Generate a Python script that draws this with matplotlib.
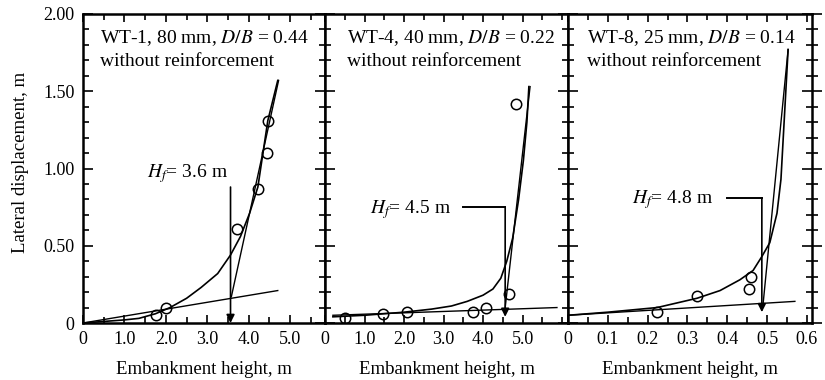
import matplotlib
matplotlib.use("Agg")
import matplotlib.pyplot as plt
from matplotlib.ticker import MultipleLocator, FixedLocator, FixedFormatter

plt.rcParams["font.family"] = ["Liberation Serif", "DejaVu Serif"]
plt.rcParams["mathtext.fontset"] = "stix"

# ---- WT-1 (80 mm, D/B = 0.44) ----
wt1_pts_x = [1.75, 2.0, 3.72, 4.22, 4.45, 4.46]
wt1_pts_y = [0.05, 0.10, 0.61, 0.87, 1.10, 1.31]
wt1_curve_x = [0, 1.0, 1.35, 1.75, 2.1, 2.5, 2.85, 3.25, 3.56, 3.8, 4.02, 4.22, 4.46, 4.7]
wt1_curve_y = [0, 0.02, 0.03, 0.06, 0.10, 0.16, 0.23, 0.32, 0.44, 0.56, 0.71, 0.88, 1.31, 1.57]
wt1_base_x = [0, 4.7]
wt1_base_y = [0.0, 0.21]
wt1_steep_x = [3.58, 4.72]
wt1_steep_y = [0.17, 1.57]
wt1_hf = 3.56            # failure height marker (x), top and tip of arrow
wt1_hf_top, wt1_hf_tip = 0.88, 0.0

# ---- WT-4 (40 mm, D/B = 0.22) ----
wt4_pts_x = [0.51, 1.47, 2.08, 3.75, 4.08, 4.66, 4.84]
wt4_pts_y = [0.03, 0.06, 0.07, 0.07, 0.10, 0.19, 1.42]
wt4_curve_x = [0.2, 1.0, 2.0, 2.7, 3.2, 3.6, 4.0, 4.25, 4.45, 4.6, 4.75, 4.9, 5.02, 5.11, 5.16]
wt4_curve_y = [0.04, 0.05, 0.07, 0.09, 0.11, 0.14, 0.18, 0.22, 0.29, 0.40, 0.55, 0.80, 1.05, 1.30, 1.53]
wt4_base_x = [0.2, 5.87]
wt4_base_y = [0.05, 0.10]
wt4_steep_x = [4.56, 5.19]
wt4_steep_y = [0.10, 1.53]
wt4_hf = 4.56
wt4_lead_x0, wt4_lead_y, wt4_hf_tip = 3.5, 0.75, 0.04

# ---- WT-8 (25 mm, D/B = 0.14) ----
wt8_pts_x = [0.224, 0.324, 0.455, 0.46]
wt8_pts_y = [0.07, 0.175, 0.22, 0.30]
wt8_curve_x = [0, 0.1, 0.224, 0.324, 0.382, 0.432, 0.465, 0.487, 0.507, 0.525, 0.535, 0.553]
wt8_curve_y = [0.05, 0.07, 0.10, 0.16, 0.21, 0.28, 0.34, 0.43, 0.52, 0.71, 0.93, 1.77]
wt8_base_x = [0, 0.57]
wt8_base_y = [0.05, 0.14]
wt8_steep_x = [0.49, 0.553]
wt8_steep_y = [0.12, 1.77]
wt8_hf = 0.487
wt8_lead_x0, wt8_lead_y, wt8_hf_tip = 0.40, 0.81, 0.07

W, H = 825, 380
fig = plt.figure(figsize=(W / 100, H / 100), dpi=100)
y0, y1 = 323, 14
edges = [83, 325, 568, 812]
axes = []
for i in range(3):
    ax = fig.add_axes([edges[i] / W, 1 - y0 / H, (edges[i + 1] - edges[i]) / W, (y0 - y1) / H])
    axes.append(ax)

FS = 13
TFS = 14
lw = 1.2
for ax in axes:
    ax.set_ylim(0, 2.0)
    for s in ax.spines.values():
        s.set_linewidth(1.8)
    ax.yaxis.set_major_locator(MultipleLocator(0.5))
    ax.yaxis.set_minor_locator(MultipleLocator(0.1))
    ax.tick_params(axis="x", which="both", direction="in", top=True, bottom=True,
                   labelsize=FS, pad=6, width=1.2)
    ax.tick_params(axis="x", which="major", length=6)
    ax.tick_params(axis="x", which="minor", length=4)
    ax.set_xlabel("Embankment height, m", fontsize=13.5, labelpad=9)

a1, a2, a3 = axes
a1.set_xlim(0, 5.84)
a2.set_xlim(0, 6.15)
a3.set_xlim(0, 0.613)
for ax in (a1, a2):
    ax.xaxis.set_minor_locator(MultipleLocator(0.5))
    ax.xaxis.set_major_locator(FixedLocator([0, 1, 2, 3, 4, 5]))
    ax.xaxis.set_major_formatter(FixedFormatter(["0", "1.0", "2.0", "3.0", "4.0", "5.0"]))
a3.xaxis.set_major_locator(FixedLocator([0, 0.1, 0.2, 0.3, 0.4, 0.5, 0.6]))
a3.xaxis.set_major_formatter(FixedFormatter(["0", "0.1", "0.2", "0.3", "0.4", "0.5", "0.6"]))
a3.xaxis.set_minor_locator(MultipleLocator(0.05))

# y ticks
a1.tick_params(axis="y", which="both", direction="in", left=True, right=False,
               labelsize=FS, pad=6, width=1.2)
a1.tick_params(axis="y", which="major", length=7)
a1.tick_params(axis="y", which="minor", length=4)
a1.yaxis.set_major_locator(FixedLocator([0, 0.5, 1.0, 1.5, 2.0]))
a1.yaxis.set_major_formatter(FixedFormatter(["0", "0.50", "1.00", "1.50", "2.00"]))
a1.set_ylabel("Lateral displacement, m", fontsize=13.5)
a1.yaxis.set_label_coords(-0.222, 0.52)
for ax in (a2, a3):
    ax.tick_params(axis="y", which="both", direction="inout", left=True, right=False,
                   labelleft=False, width=1.2)
    ax.tick_params(axis="y", which="major", length=14)
    ax.tick_params(axis="y", which="minor", length=8)
a3.tick_params(axis="y", which="both", right=True)

panels = [
    (a1, wt1_pts_x, wt1_pts_y, wt1_curve_x, wt1_curve_y, wt1_base_x, wt1_base_y, wt1_steep_x, wt1_steep_y),
    (a2, wt4_pts_x, wt4_pts_y, wt4_curve_x, wt4_curve_y, wt4_base_x, wt4_base_y, wt4_steep_x, wt4_steep_y),
    (a3, wt8_pts_x, wt8_pts_y, wt8_curve_x, wt8_curve_y, wt8_base_x, wt8_base_y, wt8_steep_x, wt8_steep_y),
]
for ax, px, py, cx, cy, bx, by, sx, sy in panels:
    ax.plot(cx, cy, "-", color="black", lw=lw, clip_on=False)
    ax.plot(bx, by, "-", color="black", lw=1.0)
    ax.plot(sx, sy, "-", color="black", lw=1.0)
    ax.plot(px, py, "o", ms=7.5, mfc="none", mec="black", mew=1.1)

arrow = dict(arrowstyle="-|>", color="black", lw=1.2, mutation_scale=12, shrinkA=0, shrinkB=0)
# WT-1: plain vertical arrow
a1.annotate("", xy=(wt1_hf, wt1_hf_tip), xytext=(wt1_hf, wt1_hf_top), arrowprops=arrow)
a1.text(0.264, 0.485, r"$H_f$= 3.6 m", transform=a1.transAxes, fontsize=TFS, va="center")
# WT-4 and WT-8: leader then down arrow
a2.plot([wt4_lead_x0, wt4_hf], [wt4_lead_y, wt4_lead_y], color="black", lw=1.4)
a2.annotate("", xy=(wt4_hf, wt4_hf_tip), xytext=(wt4_hf, wt4_lead_y), arrowprops=arrow)
a2.text(0.185, 0.366, r"$H_f$= 4.5 m", transform=a2.transAxes, fontsize=TFS, va="center")
a3.plot([wt8_lead_x0, wt8_hf], [wt8_lead_y, wt8_lead_y], color="black", lw=1.4)
a3.annotate("", xy=(wt8_hf, wt8_hf_tip), xytext=(wt8_hf, wt8_lead_y), arrowprops=arrow)
a3.text(0.262, 0.398, r"$H_f$= 4.8 m", transform=a3.transAxes, fontsize=TFS, va="center")

titles = [(a1, 0.07, "WT-1, 80 mm, $D/B$ = 0.44"),
          (a2, 0.09, "WT-4, 40 mm, $D/B$ = 0.22"),
          (a3, 0.078, "WT-8, 25 mm, $D/B$ = 0.14")]
for ax, x, t in titles:
    ax.text(x, 0.922, t, transform=ax.transAxes, fontsize=TFS, va="center")
    ax.text(x, 0.845, "without reinforcement", transform=ax.transAxes, fontsize=TFS, va="center")

fig.savefig("out.png", dpi=100)
